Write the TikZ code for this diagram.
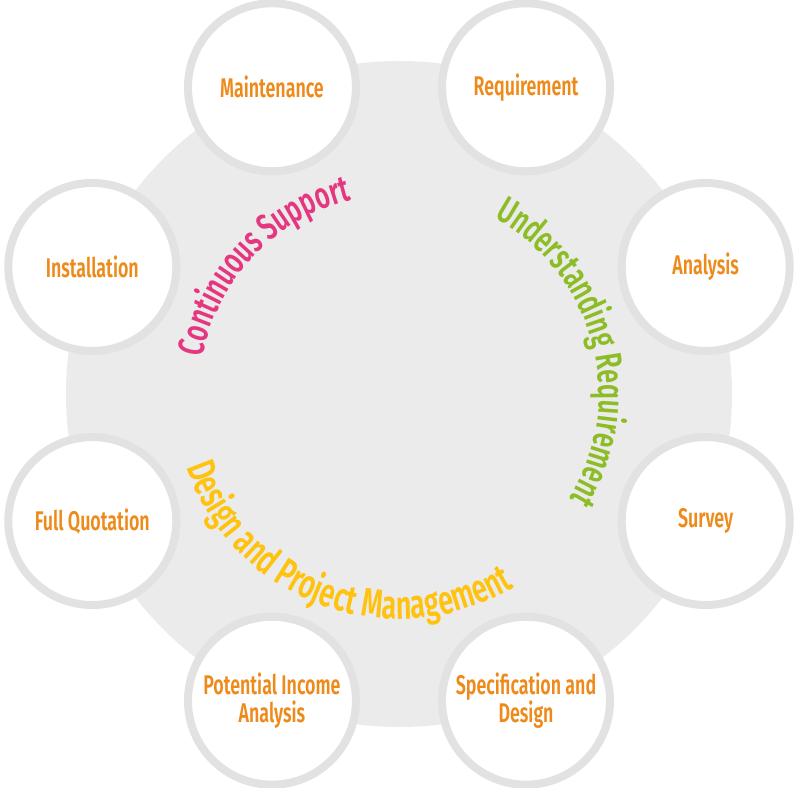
\documentclass[tikz,border=0pt]{standalone}
\usepackage{fontspec}
\setmainfont{Fira Sans SemiBold}[FakeStretch=0.66]
\newfontfamily\arcfamily{Fira Sans SemiBold}[FakeStretch=0.68]
\usepackage{xcolor}
\usetikzlibrary{decorations.text}

\definecolor{hubgrey}{HTML}{EBEBEB}
\definecolor{ringgrey}{HTML}{E2E2E2}
\definecolor{labelorange}{HTML}{EE8A1A}
\definecolor{supportpink}{HTML}{E5367F}
\definecolor{reqgreen}{HTML}{8DBD26}
\definecolor{designyellow}{HTML}{FFC20E}

\begin{document}
\begin{tikzpicture}[x=1pt,y=1pt,
    stage/.style={circle, draw=ringgrey, line width=8pt, fill=white,
        minimum size=168pt, inner sep=0pt, text=labelorange,
        font=\fontsize{27}{28}\selectfont, align=center},
    arcword/.style n args={3}{decorate, decoration={text along path,
        text align=center, text color=#1,
        text={|\arcfamily\fontsize{#2}{#2}\selectfont|#3}}}]
    \useasboundingbox (-399,-393) rectangle (396,394);

    % hub
    \node[circle, fill=hubgrey, minimum size=666pt, inner sep=0pt] (hub) at (0,0) {};

    % stages round the hub
    \foreach \a/\name/\txt in {112.5/maint/Maintenance, 67.5/req/Requirement,
        22.5/ana/Analysis, -22.5/surv/Survey, -67.5/spec/{Specification and\\Design},
        -112.5/income/{Potential Income\\Analysis}, -157.5/quote/Full Quotation,
        157.5/inst/Installation}
        \node[stage] (\name) at (\a:332) {\txt};

    % phases
    \path[arcword={supportpink}{37}{Continuous Support}]
        (186.5:200) arc[start angle=186.5, end angle=86.5, radius=200];
    \path[arcword={reqgreen}{37}{Understanding Requirement}]
        (75:200) arc[start angle=75, end angle=-45, radius=200];
    \path[arcword={designyellow}{40}{Design and Project Management}]
        (190:225) arc[start angle=190, end angle=310, radius=225];
\end{tikzpicture}
\end{document}
